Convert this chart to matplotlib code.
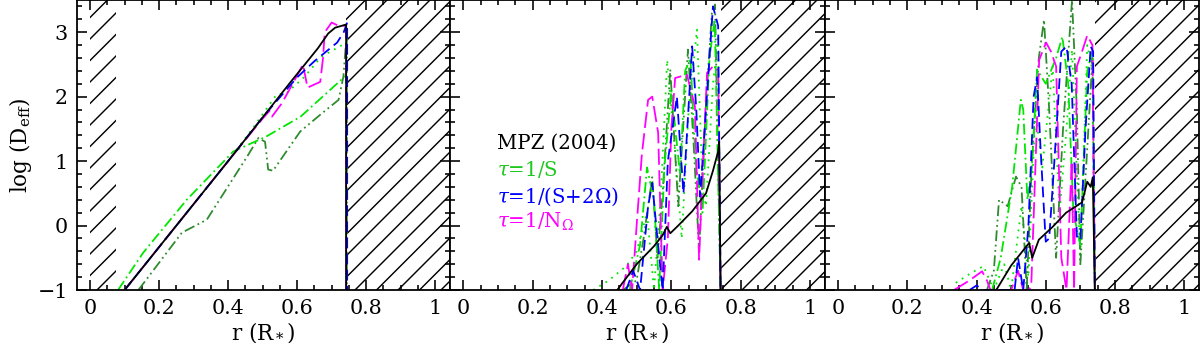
import matplotlib
matplotlib.use("Agg")
import matplotlib.pyplot as plt
from matplotlib.ticker import MultipleLocator

# ---- data ----
# panel 1
p1_black_r = [0.10, 0.25, 0.40, 0.58, 0.66, 0.69, 0.71, 0.742, 0.742]
p1_black_v = [-1.0, 0.0, 1.0, 2.22, 2.75, 2.98, 3.07, 3.12, -1.0]
p1_blue_r = [0.10, 0.25, 0.40, 0.50, 0.60, 0.65, 0.716, 0.735, 0.745, 0.745]
p1_blue_v = [-1.0, 0.0, 1.0, 1.68, 2.3, 2.55, 2.84, 3.0, 3.15, -1.0]
p1_mag_r = [0.10, 0.25, 0.40, 0.50, 0.52, 0.527, 0.556, 0.59, 0.617, 0.63, 0.667, 0.675,
            0.68, 0.70, 0.72, 0.742, 0.742]
p1_mag_v = [-1.0, 0.0, 1.0, 1.66, 1.78, 1.69, 1.9, 2.23, 2.5, 2.14, 2.23, 2.6,
            3.0, 3.15, 3.1, 3.1, -1.0]
p1_lime_dd_r = [0.081, 0.154, 0.28, 0.415, 0.51, 0.61, 0.742, 0.742]
p1_lime_dd_v = [-1.0, -0.42, 0.4, 1.15, 1.38, 1.69, 2.33, -1.0]
p1_dgreen_r = [0.14, 0.266, 0.338, 0.455, 0.488, 0.507, 0.516, 0.53, 0.609, 0.667, 0.72,
               0.734, 0.74, 0.744, 0.744]
p1_dgreen_v = [-1.0, -0.11, 0.09, 1.07, 1.36, 1.3, 0.87, 0.85, 1.46, 1.72, 1.95,
               2.31, 2.73, 2.95, -1.0]
p1_lime_dot_r = [0.10, 0.25, 0.40, 0.47, 0.54, 0.57, 0.62, 0.67, 0.73, 0.742, 0.742]
p1_lime_dot_v = [-1.0, 0.0, 1.0, 1.5, 2.03, 2.06, 2.3, 2.62, 2.8, 2.8, -1.0]

# panel 2
p2_black_r = [0.444, 0.50, 0.55, 0.575, 0.587, 0.597, 0.62, 0.66, 0.70, 0.72, 0.735, 0.738, 0.742]
p2_black_v = [-1.0, -0.6, -0.32, -0.15, -0.02, -0.12, 0.0, 0.22, 0.5, 0.85, 1.15, 1.3, -1.0]
p2_blue_r = [0.47, 0.49, 0.51, 0.533, 0.545, 0.56, 0.575, 0.59, 0.616, 0.635, 0.66, 0.672,
             0.683, 0.70, 0.72, 0.735, 0.742]
p2_blue_v = [-1.0, -0.7, -1.0, 0.3, 0.66, -0.2, -1.0, 1.0, 2.0, 0.5, 2.78, 1.8,
             0.45, 1.8, 3.4, 3.1, -1.0]
p2_mag_r = [0.46, 0.475, 0.487, 0.50, 0.515, 0.533, 0.545, 0.562, 0.575, 0.59, 0.60, 0.611,
            0.645, 0.668, 0.68, 0.69, 0.703, 0.72, 0.735, 0.742]
p2_mag_v = [-1.0, -0.6, -1.0, 0.0, 1.1, 1.95, 2.0, 1.44, -1.0, -0.2, 1.5, 2.29,
            2.34, 1.85, -0.53, 0.8, 2.37, 2.47, 2.42, -1.0]
p2_lime_dd_r = [0.48, 0.51, 0.53, 0.55, 0.565, 0.58, 0.60, 0.625, 0.64, 0.655, 0.67, 0.69,
                0.71, 0.725, 0.742]
p2_lime_dd_v = [-1.0, -0.3, 0.9, 0.4, -1.0, 0.9, 2.1, 0.8, 2.4, 2.6, 1.0, 0.2,
                2.6, 3.2, -1.0]
p2_dgreen_r = [0.46, 0.50, 0.52, 0.545, 0.56, 0.575, 0.597, 0.62, 0.648, 0.665, 0.68, 0.70,
               0.717, 0.726, 0.742]
p2_dgreen_v = [-1.0, -0.85, -0.2, 0.75, -0.5, 0.5, 2.42, 0.3, 2.73, 1.2, -0.4, 1.9,
               3.3, 3.43, -1.0]
p2_lime_dot_r = [0.375, 0.42, 0.47, 0.50, 0.53, 0.55, 0.57, 0.588, 0.61, 0.63, 0.65, 0.674,
                 0.69, 0.70, 0.72, 0.735, 0.742]
p2_lime_dot_v = [-1.0, -0.85, -0.63, -0.4, 0.2, -1.0, 0.5, 2.57, 1.2, -0.2, 1.8, 3.04,
                 0.6, 0.3, 2.2, 2.9, -1.0]

# panel 3
p3_black_r = [0.457, 0.50, 0.552, 0.561, 0.58, 0.62, 0.659, 0.688, 0.705, 0.72, 0.73, 0.736, 0.742]
p3_black_v = [-1.0, -0.62, -0.27, -0.5, -0.22, -0.02, 0.2, 0.3, 0.36, 0.68, 0.6, 0.75, -1.0]
p3_blue_r = [0.38, 0.40, 0.42, 0.45, 0.51, 0.52, 0.535, 0.55, 0.565, 0.575, 0.585, 0.60,
             0.61, 0.625, 0.645, 0.66, 0.675, 0.69, 0.70, 0.715, 0.73, 0.737, 0.742]
p3_blue_v = [-1.0, -0.93, -1.0, -1.0, -1.0, -0.5, -1.0, 0.0, 2.0, 2.3, 1.2, -0.25,
             -0.2, 1.0, 2.7, 2.78, 2.2, -0.17, -0.23, 1.5, 2.78, 2.7, -1.0]
p3_mag_r = [0.335, 0.38, 0.416, 0.43, 0.44, 0.50, 0.52, 0.535, 0.55, 0.558, 0.581, 0.601,
            0.615, 0.63, 0.645, 0.66, 0.675, 0.682, 0.69, 0.705, 0.72, 0.735, 0.742]
p3_mag_v = [-1.0, -0.85, -0.71, -0.85, -1.0, -1.0, -0.7, -1.0, -1.0, -0.95, 2.57, 2.84,
            2.7, 2.47, -0.5, -1.0, 1.0, -1.0, 2.47, 2.7, 2.95, 2.8, -1.0]
p3_lime_dd_r = [0.445, 0.47, 0.503, 0.528, 0.535, 0.547, 0.56, 0.575, 0.60, 0.63, 0.648, 0.665,
                0.68, 0.70, 0.72, 0.735, 0.742]
p3_lime_dd_v = [-1.0, -0.5, 0.6, 1.95, 1.8, 0.4, 0.9, 2.42, 2.2, 2.6, 2.93, 2.2,
                0.2, -0.3, 2.4, 2.7, -1.0]
p3_dgreen_r = [0.43, 0.45, 0.465, 0.49, 0.514, 0.53, 0.545, 0.56, 0.58, 0.595, 0.61, 0.63,
               0.65, 0.676, 0.69, 0.70, 0.72, 0.735, 0.742]
p3_dgreen_v = [-1.0, -0.7, 0.4, 0.3, 0.76, 0.6, -1.0, 1.0, 2.6, 3.19, 1.8, -0.5,
               1.5, 3.5, 1.8, -0.6, 1.2, 2.6, -1.0]
p3_lime_dot_r = [0.34, 0.38, 0.42, 0.45, 0.48, 0.50, 0.53, 0.55, 0.57, 0.59, 0.62, 0.64,
                 0.66, 0.676, 0.69, 0.70, 0.72, 0.735, 0.742]
p3_lime_dot_v = [-0.89, -0.75, -0.63, -1.0, -0.6, -1.0, 0.3, -0.8, 1.8, 0.9, 2.47, 0.2,
                 1.5, 2.73, 0.8, -0.5, 2.8, 2.4, -1.0]

legend_labels = ["MPZ (2004)", r"$\tau$=1/S", r"$\tau$=1/(S+2$\Omega$)", r"$\tau$=1/N$_\Omega$"]
legend_colors = ["black", "#1ec81e", "#0000ff", "#ff00ff"]

core_edge = 0.742
center_edge = 0.075

# ---- style ----
plt.rcParams['font.family'] = ['DejaVu Serif']
plt.rcParams['mathtext.fontset'] = 'dejavuserif'
plt.rcParams['hatch.linewidth'] = 0.8

LIME = "#00e600"
DGREEN = "#2e8b2e"

dpi = 129
fig = plt.figure(figsize=(1200 / dpi, 343 / dpi), dpi=dpi)

lefts = [77 / 1200, 450 / 1200, 825 / 1200]
widths = [373 / 1200, 375 / 1200, 374 / 1200]
bottom = 1 - 290 / 343
height = 290 / 343

panels = [
    [(p1_lime_dot_r, p1_lime_dot_v, LIME, (0, (1, 3))),
     (p1_dgreen_r, p1_dgreen_v, DGREEN, (0, (6, 2, 1, 2, 1, 2))),
     (p1_lime_dd_r, p1_lime_dd_v, LIME, (0, (6, 2, 1, 2))),
     (p1_mag_r, p1_mag_v, "#ff00ff", (0, (9, 3))),
     (p1_blue_r, p1_blue_v, "#0000ff", (0, (6, 3))),
     (p1_black_r, p1_black_v, "black", "-")],
    [(p2_lime_dot_r, p2_lime_dot_v, LIME, (0, (1, 3))),
     (p2_dgreen_r, p2_dgreen_v, DGREEN, (0, (6, 2, 1, 2, 1, 2))),
     (p2_lime_dd_r, p2_lime_dd_v, LIME, (0, (6, 2, 1, 2))),
     (p2_mag_r, p2_mag_v, "#ff00ff", (0, (9, 3))),
     (p2_blue_r, p2_blue_v, "#0000ff", (0, (6, 3))),
     (p2_black_r, p2_black_v, "black", "-")],
    [(p3_lime_dot_r, p3_lime_dot_v, LIME, (0, (1, 3))),
     (p3_dgreen_r, p3_dgreen_v, DGREEN, (0, (6, 2, 1, 2, 1, 2))),
     (p3_lime_dd_r, p3_lime_dd_v, LIME, (0, (6, 2, 1, 2))),
     (p3_mag_r, p3_mag_v, "#ff00ff", (0, (9, 3))),
     (p3_blue_r, p3_blue_v, "#0000ff", (0, (6, 3))),
     (p3_black_r, p3_black_v, "black", "-")],
]

for i, series in enumerate(panels):
    ax = fig.add_axes([lefts[i], bottom, widths[i], height])
    ax.set_xlim(-0.038, 1.043)
    ax.set_ylim(-1, 3.5)

    # hatched regions (radiative core edge / convective envelope)
    ax.fill_betweenx([-1, 3.5], core_edge, 1.1, hatch='//', facecolor='none',
                     edgecolor='black', linewidth=0, zorder=1)
    if i == 0:
        ax.fill_betweenx([-1, 3.5], 0, center_edge, hatch='//', facecolor='none',
                         edgecolor='black', linewidth=0, zorder=1)

    for r, v, c, ls in series:
        ax.plot(r, v, color=c, linestyle=ls, linewidth=1.0, zorder=2)

    ax.xaxis.set_major_locator(MultipleLocator(0.2))
    ax.xaxis.set_minor_locator(MultipleLocator(0.05))
    ax.yaxis.set_major_locator(MultipleLocator(1))
    ax.yaxis.set_minor_locator(MultipleLocator(0.2))
    ax.tick_params(which='both', direction='in', top=True, right=True, width=0.9)
    ax.tick_params(which='major', length=5.5, labelsize=11.5, pad=5)
    ax.tick_params(which='minor', length=2.8)
    ax.set_xticks([0, 0.2, 0.4, 0.6, 0.8, 1.0])
    ax.set_xticklabels(["0", "0.2", "0.4", "0.6", "0.8", "1"])
    ax.set_xlabel(r"r (R$_*$)", fontsize=12, labelpad=1)
    for s in ax.spines.values():
        s.set_linewidth(1.0)
    if i == 0:
        ax.set_ylabel(r"log (D$_{\rm eff}$)", fontsize=12, labelpad=2)
    else:
        ax.set_yticklabels([])

    if i == 1:
        ys = [0.507, 0.414, 0.321, 0.234]
        for lab, col, yy in zip(legend_labels, legend_colors, ys):
            ax.text(0.125, yy, lab, color=col, fontsize=11, transform=ax.transAxes,
                    va='center', ha='left')

fig.savefig("out.png", dpi=dpi)
